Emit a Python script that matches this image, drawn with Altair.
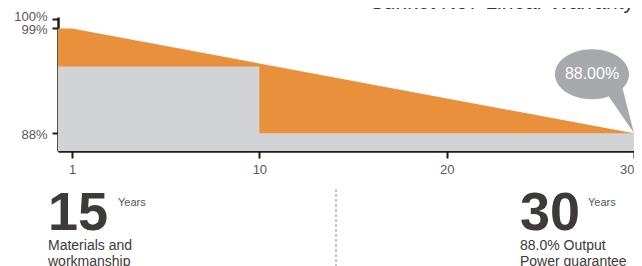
import altair as alt
import pandas as pd

# ---- data ----
top_x = [-0.75, 0, 30]        # warranty line (x position 0 is labelled "1")
top_y = [99, 99, 88]
gray_x = [-0.75, 10, 30]      # step guarantee
gray_y = [95, 88, 88]
x_ticks = [0, 10, 20, 30]
y_ticks = [88, 99, 100]
end_value = [30]
end_pct = [88]
bubble_label = "88.00%"
title_text = "Sunket N97 Linear Warranty"
big_numbers = ["15", "30"]
unit_text = "Years"
captions = [["Materials and", "workmanship"], ["88.0% Output", "Power guarantee"]]

ORANGE = "#E8903B"
GRAY = "#D1D3D4"
AXIS = "#231815"
LABEL = "#595757"
DARK = "#3E3A39"
BUBBLE = "#A7A9AC"
FONT = "Liberation Sans"

W, H = 576, 134
y_dom = [86.15, 100.2]
x_dom = [-0.75, 30]

xs = alt.Scale(domain=x_dom, nice=False, zero=False)
ys = alt.Scale(domain=y_dom, nice=False, zero=False)

base_df = [y_dom[0]] * 3
top_df = pd.DataFrame({"x": top_x, "y": top_y, "b": base_df})
gray_df = pd.DataFrame({"x": gray_x, "y": gray_y, "b": base_df})
end_df = pd.DataFrame({"x": end_value, "y": end_pct, "t": [bubble_label]})
one = pd.DataFrame({"a": [0]})

X = alt.X("x:Q", scale=xs, title=None, axis=alt.Axis(
    values=x_ticks, grid=False, labelOverlap=False,
    labelExpr="datum.value == 0 ? '1' : datum.label",
    domainColor=AXIS, domainWidth=2.5, tickColor=AXIS, tickWidth=2,
    tickSize=7, labelPadding=5, labelFontSize=13, labelColor=LABEL,
    labelFont=FONT))
Y = alt.Y("y:Q", scale=ys, title=None, axis=alt.Axis(
    values=y_ticks, grid=False, labelOverlap=False,
    labelExpr="datum.value + '%'",
    labelOffset={"condition": {"test": "datum.value == 100", "value": -2},
                 "value": 1},
    domainColor=AXIS, domainWidth=2.5, tickColor=AXIS, tickWidth=2,
    tickSize=6, labelPadding=5, labelFontSize=13, labelColor=LABEL,
    labelFont=FONT))

orange = alt.Chart(top_df).mark_area(color=ORANGE, opacity=1).encode(
    x=X, y=Y, y2="b:Q",
)

gray = alt.Chart(gray_df).mark_area(color=GRAY, opacity=1, interpolate="step-after").encode(
    x=X, y=Y, y2="b:Q",
)

# speech bubble anchored on the final data point (path relative to tip, in px)
k = 0.5523
cx, cy, rx, ry = -42, -59, 37, 25
def f(v):
    return f"{v:.2f}"
ell = (
    f"M{f(cx+rx)},{f(cy)} "
    f"C{f(cx+rx)},{f(cy+k*ry)} {f(cx+k*rx)},{f(cy+ry)} {f(cx)},{f(cy+ry)} "
    f"C{f(cx-k*rx)},{f(cy+ry)} {f(cx-rx)},{f(cy+k*ry)} {f(cx-rx)},{f(cy)} "
    f"C{f(cx-rx)},{f(cy-k*ry)} {f(cx-k*rx)},{f(cy-ry)} {f(cx)},{f(cy-ry)} "
    f"C{f(cx+k*rx)},{f(cy-ry)} {f(cx+rx)},{f(cy-k*ry)} {f(cx+rx)},{f(cy)} Z "
    "M-12,-47 L0,0 L-26,-38 Z"
)
bubble = alt.Chart(end_df).mark_point(
    shape=ell, size=4, filled=True, color=BUBBLE, opacity=1, strokeWidth=0
).encode(x=X, y=Y)
bubble_text = alt.Chart(end_df).mark_text(
    dx=cx, dy=cy, align="center", baseline="middle", color="white",
    fontSize=16, font=FONT
).encode(x=X, y=Y, text="t:N")

title = alt.Chart(one).mark_text(
    align="right", baseline="alphabetic", fontSize=21, font=FONT, color="#333333"
).encode(x=alt.value(W), y=alt.value(-8), text=alt.value(title_text))

def big(num, xpx):
    return alt.Chart(one).mark_text(
        align="left", baseline="alphabetic", fontSize=54, fontWeight="bold",
        font=FONT, color=DARK
    ).encode(x=alt.value(xpx), y=alt.value(213), text=alt.value(num))

def unit(xpx):
    return alt.Chart(one).mark_text(
        align="left", baseline="alphabetic", fontSize=11, font=FONT, color="#595757"
    ).encode(x=alt.value(xpx), y=alt.value(189), text=alt.value(unit_text))

def cap(lines, xpx):
    return alt.Chart(one).mark_text(
        align="left", baseline="alphabetic", fontSize=14, lineHeight=16,
        font=FONT, color=DARK
    ).encode(x=alt.value(xpx), y=alt.value(233), text=alt.value(lines))

divider = alt.Chart(one).mark_rule(color="#8C8C8C", strokeWidth=1, strokeDash=[3, 2]).encode(
    x=alt.value(278), y=alt.value(172), y2=alt.value(252)
)

chart = alt.layer(
    orange, gray, bubble, bubble_text, title,
    big(big_numbers[0], -10), unit(60), cap(captions[0], -10),
    big(big_numbers[1], 462), unit(530), cap(captions[1], 462),
    divider,
).properties(
    width=W, height=H,
    autosize=alt.AutoSizeParams(type="none"),
    padding={"left": 50, "top": 9, "right": 0, "bottom": 115},
).configure(background="white").configure_view(stroke=None)

chart.save("out.html", embed_options={"renderer": "svg", "actions": False})
